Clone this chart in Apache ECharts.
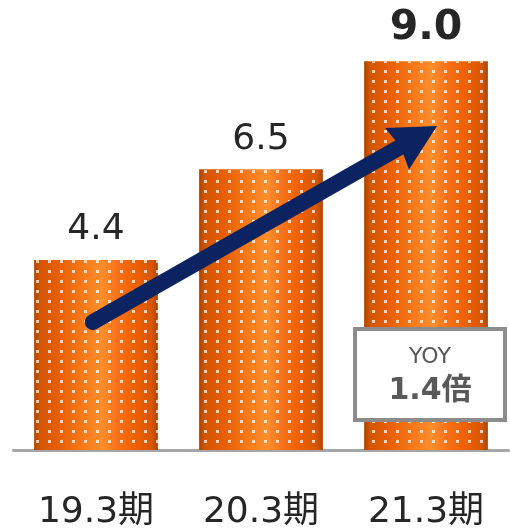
<!DOCTYPE html>
<html>
<head>
<meta charset="utf-8">
<script src="https://cdn.jsdelivr.net/npm/echarts@6/dist/echarts.min.js"></script>
<style>html,body{margin:0;padding:0;background:#fff;}#c{width:510px;height:531px;}</style>
</head>
<body>
<div id="c"></div>
<script>
const categories = ['19.3期', '20.3期', '21.3期'];
const values = [4.4, 6.5, 9.0];
const highlightIndex = 2;
const arrowFrom = [-0.02, 2.96];
const arrowTo = [2.067, 7.5];
const yoyTitle = 'YOY';
const yoyValue = '1.4倍';

const FONT = '"DejaVu Sans", "Noto Sans CJK JP", sans-serif';
const barGradient = {
  type: 'linear', x: 0, y: 0, x2: 1, y2: 0,
  colorStops: [
    {offset: 0, color: '#ad4400'},
    {offset: 0.05, color: '#d45600'},
    {offset: 0.2, color: '#e85e04'},
    {offset: 0.4, color: '#f77a1a'},
    {offset: 0.55, color: '#ff8e2c'},
    {offset: 0.68, color: '#f87018'},
    {offset: 0.82, color: '#ee6000'},
    {offset: 0.95, color: '#d85600'},
    {offset: 1, color: '#ae4400'}
  ]
};

const chart = echarts.init(document.getElementById('c'));
chart.setOption({
  animation: false,
  grid: {left: 13.5, right: 1.5, top: 18, bottom: 81, containLabel: false},
  xAxis: [{
    type: 'category', data: categories,
    axisLine: {lineStyle: {color: '#a6a6a6', width: 3}},
    axisTick: {show: false},
    axisLabel: {fontFamily: FONT, fontSize: 36, color: '#262626', margin: 45}
  }, {
    type: 'value', min: -0.5, max: 2.5, show: false
  }],
  yAxis: {type: 'value', min: 0, max: 10, show: false},
  series: [{
    type: 'bar', xAxisIndex: 0,
    barWidth: '75%',
    data: values.map((v, i) => i === highlightIndex
      ? {value: v, label: {fontWeight: 'bold', fontSize: 41}}
      : v),
    itemStyle: {
      color: barGradient,
      decal: {
        symbol: 'rect', symbolSize: 1,
        color: 'rgba(255,255,255,0.72)',
        dashArrayX: [3, 9], dashArrayY: [2.5, 6.5]
      }
    },
    label: {
      show: true, position: 'top', distance: 12,
      fontFamily: FONT, fontSize: 36, color: '#262626',
      formatter: p => p.value.toFixed(1)
    }
  }, {
    type: 'custom', xAxisIndex: 1, silent: true, z: 5,
    data: [[arrowFrom[0], arrowFrom[1], arrowTo[0], arrowTo[1]]],
    encode: {x: [0, 2], y: [1, 3]},
    renderItem: function (params, api) {
      const p1 = api.coord([api.value(0), api.value(1)]);
      const p2 = api.coord([api.value(2), api.value(3)]);
      const dx = p2[0] - p1[0], dy = p2[1] - p1[1];
      const len = Math.sqrt(dx * dx + dy * dy);
      const ux = dx / len, uy = dy / len;
      const nx = -uy, ny = ux;
      const L = 46, W = 24;
      const bx = p2[0] - ux * L, by = p2[1] - uy * L;
      return {
        type: 'group',
        children: [{
          type: 'line',
          shape: {x1: p1[0], y1: p1[1], x2: bx + ux * 6, y2: by + uy * 6},
          style: {stroke: '#0b2461', lineWidth: 16, lineCap: 'round'}
        }, {
          type: 'polygon',
          shape: {points: [p2, [bx + nx * W, by + ny * W], [bx + ux * 4, by + uy * 4], [bx - nx * W, by - ny * W]]},
          style: {fill: '#0b2461'}
        }]
      };
    }
  }],
  graphic: [{
    type: 'group', left: 353, top: 327, z: 100,
    children: [{
      type: 'rect', z: 100, shape: {x: 0, y: 0, width: 150, height: 91},
      style: {fill: '#fff', stroke: '#8c8c8c', lineWidth: 4}
    }, {
      type: 'text', z: 101, x: 75, y: 28,
      style: {text: yoyTitle, font: '22px ' + FONT, fill: '#595959', align: 'center', verticalAlign: 'middle'}
    }, {
      type: 'text', z: 101, x: 75, y: 62,
      style: {text: yoyValue, font: 'bold 30px ' + FONT, fill: '#595959', align: 'center', verticalAlign: 'middle'}
    }]
  }]
});
</script>
</body>
</html>
